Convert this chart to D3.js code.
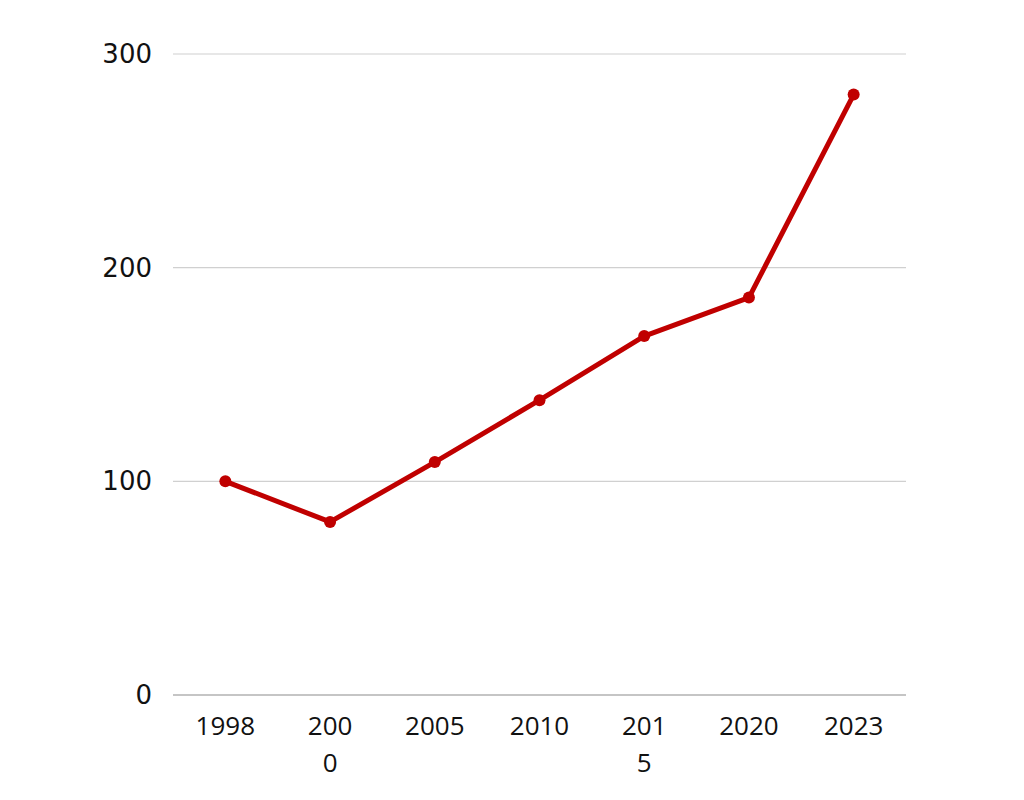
<!DOCTYPE html>
<html>
<head>
<meta charset="utf-8">
<script src="https://cdn.jsdelivr.net/npm/d3@7"></script>
<style>
  html, body { margin: 0; padding: 0; background: #fff; }
  svg { display: block; }
</style>
</head>
<body>
<svg id="chart" width="1024" height="800"></svg>
<script>
const categories = ["1998", "2000", "2005", "2010", "2015", "2020", "2023"];
const tickLines = [["1998"], ["200", "0"], ["2005"], ["2010"], ["201", "5"], ["2020"], ["2023"]];
const values = [100, 81, 109, 138, 168, 186, 281];
const yTicks = [0, 100, 200, 300];

(function () {
const svg = d3.select("#chart");
const plotLeft = 173, plotRight = 906, plotTop = 54, plotBottom = 695;

const x = d3.scaleBand().domain(categories).range([plotLeft, plotRight]).padding(0);
const y = d3.scaleLinear().domain([0, 300]).range([plotBottom, plotTop]);

// gridlines
svg.append("g").selectAll("line").data(yTicks.filter(d => d > 0)).join("line")
  .attr("x1", plotLeft).attr("x2", plotRight)
  .attr("y1", d => y(d)).attr("y2", d => y(d))
  .attr("stroke", "#d0d0d0").attr("stroke-width", 1.2);

// baseline
svg.append("line").attr("x1", plotLeft).attr("x2", plotRight)
  .attr("y1", y(0)).attr("y2", y(0))
  .attr("stroke", "#8c8c8c").attr("stroke-width", 1.2);

// y labels
svg.append("g").selectAll("text").data(yTicks).join("text")
  .attr("x", 152).attr("y", d => y(d))
  .attr("text-anchor", "end").attr("dominant-baseline", "central")
  .attr("font-family", "DejaVu Sans").attr("font-size", 26).attr("fill", "#111")
  .text(d => d);

// x labels
const xl = svg.append("g").selectAll("text").data(categories).join("text")
  .attr("x", d => x(d) + x.bandwidth() / 2)
  .attr("y", 735)
  .attr("text-anchor", "middle")
  .attr("font-family", "Open Sans").attr("font-size", 26).attr("fill", "#111");
xl.each(function (d, i) {
  d3.select(this).selectAll("tspan").data(tickLines[i]).join("tspan")
    .attr("x", x(d) + x.bandwidth() / 2)
    .attr("dy", (t, j) => j === 0 ? 0 : 37)
    .text(t => t);
});

// line
const line = d3.line().x((d, i) => x(categories[i]) + x.bandwidth() / 2).y(d => y(d));
svg.append("path").datum(values)
  .attr("d", line).attr("fill", "none")
  .attr("stroke", "#C00000").attr("stroke-width", 5).attr("stroke-linejoin", "round");

svg.append("g").selectAll("circle").data(values).join("circle")
  .attr("cx", (d, i) => x(categories[i]) + x.bandwidth() / 2)
  .attr("cy", d => y(d)).attr("r", 6)
  .attr("fill", "#C00000");
})();
</script>
</body>
</html>
